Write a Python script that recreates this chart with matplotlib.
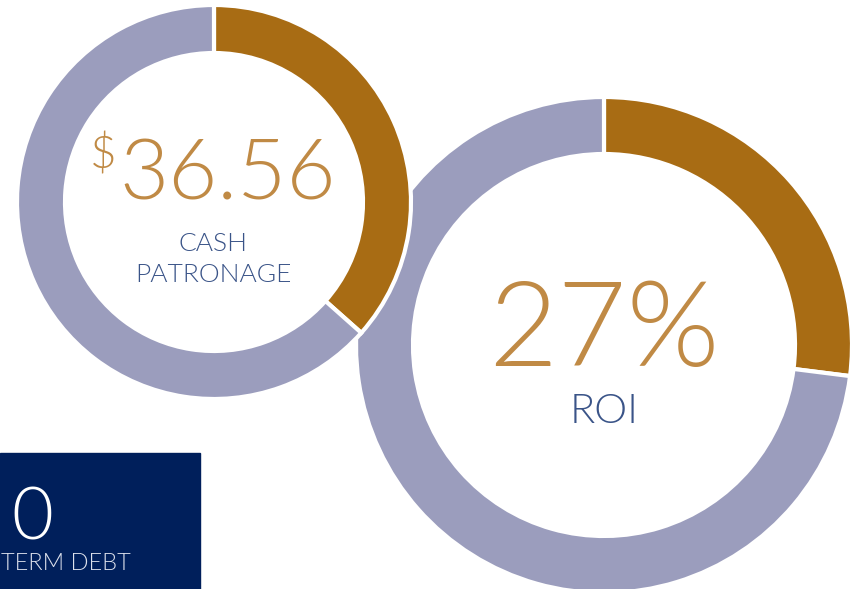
import matplotlib
matplotlib.use("Agg")
import matplotlib.pyplot as plt
from matplotlib.patches import Rectangle

# data
cash_share = [36.56, 63.44]     # gold part, rest
roi_share = [27, 73]
cash_label = ["CASH", "PATRONAGE"]
cash_value = "36.56"
roi_value = "27%"
debt_value = "0"
debt_label = "TERM DEBT"

GOLD = "#A86C14"
LILAC = "#9B9DBD"
TXT_GOLD = "#C08A45"
TXT_NAVY = "#3A5488"
BOX = "#001F5B"

W, H = 859, 589
fig = plt.figure(figsize=(W / 100, H / 100), dpi=100)
ax = fig.add_axes([0, 0, 1, 1])

font = dict(family=["Lato", "DejaVu Sans"], fontweight=300)

# big ROI ring first, it sits behind the small one
ax.pie(roi_share, center=(604, H - 345), radius=248, startangle=90,
       counterclock=False, colors=[GOLD, LILAC], frame=True,
       wedgeprops=dict(width=57, edgecolor="white", linewidth=3))
ax.pie(cash_share, center=(214, H - 202), radius=197, startangle=90,
       counterclock=False, colors=[GOLD, LILAC], frame=True,
       wedgeprops=dict(width=48, edgecolor="white", linewidth=3))

ax.add_patch(Rectangle((0, 0), 200, H - 453, color=BOX, zorder=3))

ax.text(228, H - 200, cash_value, ha="center", va="baseline", fontsize=61, color=TXT_GOLD, **font)
ax.text(103, H - 168, "$", ha="center", va="baseline", fontsize=33, color=TXT_GOLD, **font)
ax.text(213, H - 251, cash_label[0], ha="center", va="baseline", fontsize=19, color=TXT_NAVY, **font)
ax.text(213, H - 282, cash_label[1], ha="center", va="baseline", fontsize=19, color=TXT_NAVY, **font)

ax.text(604, H - 366, roi_value, ha="center", va="baseline", fontsize=86, color=TXT_GOLD, **font)
ax.text(604, H - 423, "ROI", ha="center", va="baseline", fontsize=30, color=TXT_NAVY, **font)

ax.text(32, H - 540, debt_value, ha="center", va="baseline", fontsize=52, color="white", zorder=4, **font)
ax.text(1, H - 570, debt_label, ha="left", va="baseline", fontsize=17, color="#DDE1EC", zorder=4, **font)

ax.set_xlim(0, W)
ax.set_ylim(0, H)
ax.set_aspect("auto")
ax.axis("off")

fig.savefig("out.png", dpi=100, facecolor="white")
